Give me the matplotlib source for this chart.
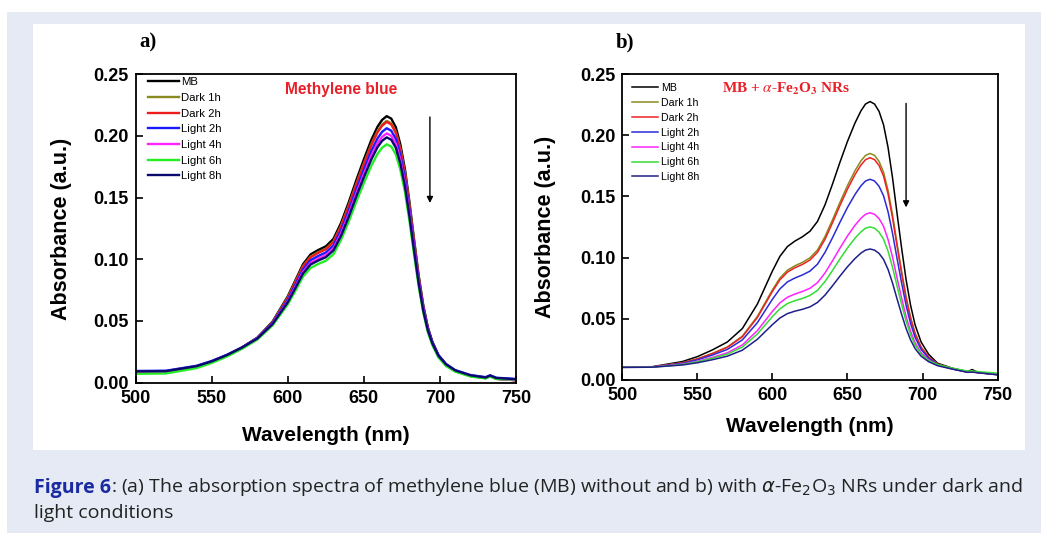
import matplotlib.pyplot as plt
from matplotlib.patches import Rectangle

# --- Data ---
wl = [500, 520, 540, 550, 560, 570, 580, 590, 600, 605, 610, 615, 620, 625, 630,
      635, 640, 645, 650, 655, 659, 662, 665, 668, 671, 674, 677, 680, 683, 686,
      689, 692, 695, 699, 704, 710, 720, 730, 733, 737, 750]

labels = ['MB', 'Dark 1h', 'Dark 2h', 'Light 2h', 'Light 4h', 'Light 6h', 'Light 8h']

# panel a) methylene blue alone
a_mb = [0.0085, 0.0088, 0.0130, 0.0170, 0.0222, 0.0285, 0.0365, 0.0495, 0.0700, 0.0830,
        0.0960, 0.1040, 0.1075, 0.1105, 0.1165, 0.1295, 0.1460, 0.1640, 0.1810, 0.1970,
        0.2075, 0.2130, 0.2160, 0.2140, 0.2070, 0.1930, 0.1730, 0.1460, 0.1160, 0.0870,
        0.0630, 0.0450, 0.0330, 0.0220, 0.0145, 0.0095, 0.0055, 0.0038, 0.0055, 0.0032,
        0.0020]
a_d1 = [0.0085, 0.0088, 0.0130, 0.0170, 0.0222, 0.0285, 0.0363, 0.0490, 0.0690, 0.0818,
        0.0945, 0.1022, 0.1057, 0.1085, 0.1144, 0.1272, 0.1434, 0.1610, 0.1777, 0.1935,
        0.2038, 0.2092, 0.2122, 0.2101, 0.2033, 0.1895, 0.1699, 0.1434, 0.1139, 0.0855,
        0.0620, 0.0445, 0.0328, 0.0220, 0.0145, 0.0095, 0.0055, 0.0038, 0.0055, 0.0032,
        0.0020]
a_d2 = [0.0085, 0.0088, 0.0130, 0.0170, 0.0222, 0.0285, 0.0362, 0.0488, 0.0686, 0.0813,
        0.0940, 0.1017, 0.1052, 0.1081, 0.1139, 0.1267, 0.1428, 0.1604, 0.1770, 0.1927,
        0.2029, 0.2083, 0.2113, 0.2093, 0.2024, 0.1888, 0.1692, 0.1428, 0.1135, 0.0852,
        0.0618, 0.0443, 0.0327, 0.0220, 0.0145, 0.0095, 0.0055, 0.0038, 0.0055, 0.0032,
        0.0020]
a_l2 = [0.0095, 0.0097, 0.0137, 0.0176, 0.0226, 0.0287, 0.0362, 0.0484, 0.0672, 0.0794,
        0.0917, 0.0993, 0.1027, 0.1055, 0.1112, 0.1236, 0.1393, 0.1565, 0.1727, 0.1880,
        0.1980, 0.2033, 0.2062, 0.2042, 0.1976, 0.1843, 0.1652, 0.1395, 0.1110, 0.0836,
        0.0610, 0.0442, 0.0330, 0.0225, 0.0152, 0.0102, 0.0062, 0.0045, 0.0060, 0.0040,
        0.0030]
a_l4 = [0.0088, 0.0090, 0.0131, 0.0170, 0.0221, 0.0283, 0.0358, 0.0478, 0.0660, 0.0778,
        0.0898, 0.0972, 0.1005, 0.1033, 0.1089, 0.1211, 0.1365, 0.1533, 0.1692, 0.1842,
        0.1940, 0.1992, 0.2020, 0.2001, 0.1935, 0.1805, 0.1618, 0.1365, 0.1085, 0.0815,
        0.0592, 0.0425, 0.0315, 0.0213, 0.0142, 0.0095, 0.0055, 0.0038, 0.0055, 0.0032,
        0.0020]
a_l6 = [0.0072, 0.0075, 0.0118, 0.0160, 0.0212, 0.0275, 0.0350, 0.0465, 0.0635, 0.0745,
        0.0860, 0.0930, 0.0962, 0.0988, 0.1041, 0.1158, 0.1305, 0.1466, 0.1618, 0.1761,
        0.1855, 0.1904, 0.1932, 0.1913, 0.1851, 0.1725, 0.1547, 0.1306, 0.1039, 0.0782,
        0.0570, 0.0412, 0.0305, 0.0205, 0.0135, 0.0090, 0.0050, 0.0035, 0.0050, 0.0030,
        0.0025]
a_l8 = [0.0092, 0.0094, 0.0134, 0.0173, 0.0224, 0.0285, 0.0358, 0.0475, 0.0652, 0.0767,
        0.0885, 0.0958, 0.0990, 0.1017, 0.1072, 0.1191, 0.1343, 0.1509, 0.1665, 0.1812,
        0.1909, 0.1960, 0.1988, 0.1969, 0.1904, 0.1776, 0.1592, 0.1344, 0.1070, 0.0805,
        0.0585, 0.0425, 0.0318, 0.0218, 0.0148, 0.0100, 0.0060, 0.0042, 0.0058, 0.0038,
        0.0028]

# panel b) MB + a-Fe2O3 NRs
b_mb = [0.0105, 0.0108, 0.0150, 0.0190, 0.0245, 0.0310, 0.0420, 0.0620, 0.0890, 0.1010,
        0.1090, 0.1135, 0.1170, 0.1215, 0.1295, 0.1430, 0.1600, 0.1780, 0.1950, 0.2100,
        0.2200, 0.2255, 0.2275, 0.2255, 0.2195, 0.2085, 0.1900, 0.1650, 0.1360, 0.1080,
        0.0820, 0.0610, 0.0450, 0.0310, 0.0210, 0.0136, 0.0095, 0.0068, 0.0085, 0.0060,
        0.0042]
b_d1 = [0.0104, 0.0106, 0.0140, 0.0172, 0.0217, 0.0269, 0.0358, 0.0519, 0.0736, 0.0833,
        0.0897, 0.0933, 0.0961, 0.0998, 0.1062, 0.1171, 0.1308, 0.1452, 0.1589, 0.1710,
        0.1791, 0.1835, 0.1851, 0.1835, 0.1786, 0.1698, 0.1549, 0.1348, 0.1114, 0.0889,
        0.0680, 0.0511, 0.0382, 0.0269, 0.0189, 0.0129, 0.0092, 0.0066, 0.0070, 0.0060,
        0.0045]
b_d2 = [0.0104, 0.0106, 0.0139, 0.0171, 0.0214, 0.0266, 0.0352, 0.0510, 0.0723, 0.0818,
        0.0881, 0.0917, 0.0944, 0.0980, 0.1043, 0.1149, 0.1284, 0.1426, 0.1560, 0.1678,
        0.1757, 0.1800, 0.1816, 0.1800, 0.1753, 0.1666, 0.1520, 0.1323, 0.1094, 0.0873,
        0.0668, 0.0502, 0.0376, 0.0266, 0.0187, 0.0128, 0.0091, 0.0065, 0.0068, 0.0060,
        0.0045]
b_l2 = [0.0104, 0.0106, 0.0135, 0.0164, 0.0203, 0.0249, 0.0327, 0.0468, 0.0659, 0.0744,
        0.0801, 0.0833, 0.0858, 0.0889, 0.0946, 0.1042, 0.1162, 0.1289, 0.1410, 0.1516,
        0.1587, 0.1626, 0.1640, 0.1626, 0.1583, 0.1505, 0.1374, 0.1197, 0.0992, 0.0794,
        0.0610, 0.0461, 0.0348, 0.0249, 0.0178, 0.0125, 0.0090, 0.0064, 0.0066, 0.0060,
        0.0045]
b_l4 = [0.0103, 0.0105, 0.0129, 0.0152, 0.0184, 0.0222, 0.0286, 0.0403, 0.0560, 0.0630,
        0.0676, 0.0702, 0.0723, 0.0749, 0.0795, 0.0874, 0.0973, 0.1078, 0.1177, 0.1264,
        0.1322, 0.1354, 0.1366, 0.1354, 0.1319, 0.1255, 0.1148, 0.1002, 0.0833, 0.0670,
        0.0519, 0.0397, 0.0304, 0.0222, 0.0164, 0.0121, 0.0089, 0.0064, 0.0066, 0.0060,
        0.0046]
b_l6 = [0.0103, 0.0104, 0.0126, 0.0148, 0.0177, 0.0211, 0.0269, 0.0375, 0.0518, 0.0581,
        0.0624, 0.0648, 0.0666, 0.0690, 0.0732, 0.0804, 0.0894, 0.0989, 0.1079, 0.1158,
        0.1211, 0.1240, 0.1251, 0.1240, 0.1208, 0.1150, 0.1052, 0.0920, 0.0767, 0.0618,
        0.0481, 0.0370, 0.0285, 0.0211, 0.0158, 0.0125, 0.0095, 0.0072, 0.0074, 0.0068,
        0.0055]
b_l8 = [0.0102, 0.0104, 0.0122, 0.0140, 0.0165, 0.0194, 0.0243, 0.0332, 0.0452, 0.0506,
        0.0542, 0.0562, 0.0577, 0.0597, 0.0633, 0.0693, 0.0769, 0.0849, 0.0925, 0.0992,
        0.1037, 0.1061, 0.1070, 0.1061, 0.1034, 0.0985, 0.0903, 0.0791, 0.0662, 0.0537,
        0.0421, 0.0327, 0.0256, 0.0194, 0.0149, 0.0116, 0.0088, 0.0062, 0.0064, 0.0058,
        0.0042]

colors_a = ['#000000', '#8a8a20', '#ee1c1c', '#1a1aff', '#ff22ff', '#22ee22', '#0a0a6e']
colors_b = ['#000000', '#8a8a20', '#ee2222', '#2a2ad6', '#ff22ff', '#33dd33', '#1f1f88']

# --- Figure ---
plt.rcParams['font.family'] = ['Liberation Sans', 'DejaVu Sans']
fig = plt.figure(figsize=(10.41, 5.33), dpi=100)

# page background, grey-blue box and white panel (pixel coords)
bg = fig.add_axes([0, 0, 1, 1], zorder=-5)
bg.set_xlim(0, 1041)
bg.set_ylim(533, 0)
bg.axis('off')
bg.add_patch(Rectangle((7, 12), 1034, 521, color='#e6eaf5', lw=0))
bg.add_patch(Rectangle((33, 24), 992, 426, color='white', lw=0))

# caption
t1 = bg.text(34, 493, 'Figure 6', fontsize=14, fontweight='bold', color='#1a2aa0',
             family='Open Sans', va='baseline')
bg.annotate(r': (a) The absorption spectra of methylene blue (MB) without and b) with '
            r'$\alpha$-Fe$_2$O$_3$ NRs under dark and',
            xy=(1, 0), xycoords=t1, va='bottom', fontsize=14, color='#222222',
            family='Open Sans', math_fontfamily='dejavusans')
bg.text(34, 518, 'light conditions', fontsize=14, color='#222222',
        family='Open Sans', va='baseline')

ax1 = fig.add_axes([0.1303, 0.282, 0.3654, 0.5788])
ax2 = fig.add_axes([0.5977, 0.2872, 0.3607, 0.5739])

series_a = [a_mb, a_d1, a_d2, a_l2, a_l4, a_l6, a_l8]
series_b = [b_mb, b_d1, b_d2, b_l2, b_l4, b_l6, b_l8]

for y, c, lab in zip(series_a, colors_a, labels):
    ax1.plot(wl, y, color=c, lw=1.7, label=lab)
for y, c, lab in zip(series_b, colors_b, labels):
    ax2.plot(wl, y, color=c, lw=1.1, label=lab)

for ax in (ax1, ax2):
    ax.set_xlim(500, 750)
    ax.set_ylim(0, 0.25)
    ax.set_xticks([500, 550, 600, 650, 700, 750])
    ax.set_yticks([0, 0.05, 0.10, 0.15, 0.20, 0.25])
    ax.set_yticklabels(['0.00', '0.05', '0.10', '0.15', '0.20', '0.25'])
    ax.tick_params(direction='in', length=5, width=1.2, labelsize=13)
    ax.tick_params(axis='x', pad=5)
    ax.tick_params(axis='y', pad=5)
    for lbl in ax.get_xticklabels() + ax.get_yticklabels():
        lbl.set_fontweight('bold')
    for s in ax.spines.values():
        s.set_linewidth(1.3)
    ax.set_xlabel('Wavelength (nm)', fontsize=15, fontweight='bold')
    ax.set_ylabel('Absorbance (a.u.)', fontsize=15.5, fontweight='bold')

ax1.xaxis.set_label_coords(0.5, -0.14)
ax2.xaxis.set_label_coords(0.5, -0.122)
ax1.yaxis.set_label_coords(-0.168, 0.5)
ax2.yaxis.set_label_coords(-0.176, 0.5)

ax1.legend(loc='upper left', bbox_to_anchor=(0.033, 0.99), frameon=False, fontsize=8.2,
           handlelength=2.7, handletextpad=0.2, labelspacing=0.5, borderpad=0,
           borderaxespad=0)
ax2.legend(loc='upper left', bbox_to_anchor=(0.025, 0.97), frameon=False, fontsize=7.7,
           handlelength=2.5, handletextpad=0.25, labelspacing=0.45, borderpad=0,
           borderaxespad=0)

ax1.text(0.54, 0.952, 'Methylene blue', transform=ax1.transAxes, ha='center', va='center',
         color='#e8202a', fontsize=11.2, fontweight='bold')
ax2.text(0.436, 0.951, r'MB + $\alpha$-Fe$_\mathbf{2}$O$_\mathbf{3}$ NRs', transform=ax2.transAxes,
         ha='center', va='center', color='#e8202a', fontsize=11, fontweight='bold',
         family='Liberation Serif', math_fontfamily='stix')

# arrows
arrow = dict(arrowstyle='-|>', color='black', lw=1.0, mutation_scale=9, shrinkA=0, shrinkB=0)
ax1.annotate('', xy=(693.4, 0.1456), xytext=(693.4, 0.2153), arrowprops=arrow)
ax2.annotate('', xy=(689, 0.141), xytext=(689, 0.226), arrowprops=arrow)

# panel letters
bg.text(148, 42, 'a)', fontsize=15, fontweight='bold', family='Liberation Serif',
        ha='center', va='center')
bg.text(625, 42, 'b)', fontsize=15, fontweight='bold', family='Liberation Serif',
        ha='center', va='center')

fig.savefig('out.png', dpi=100)
